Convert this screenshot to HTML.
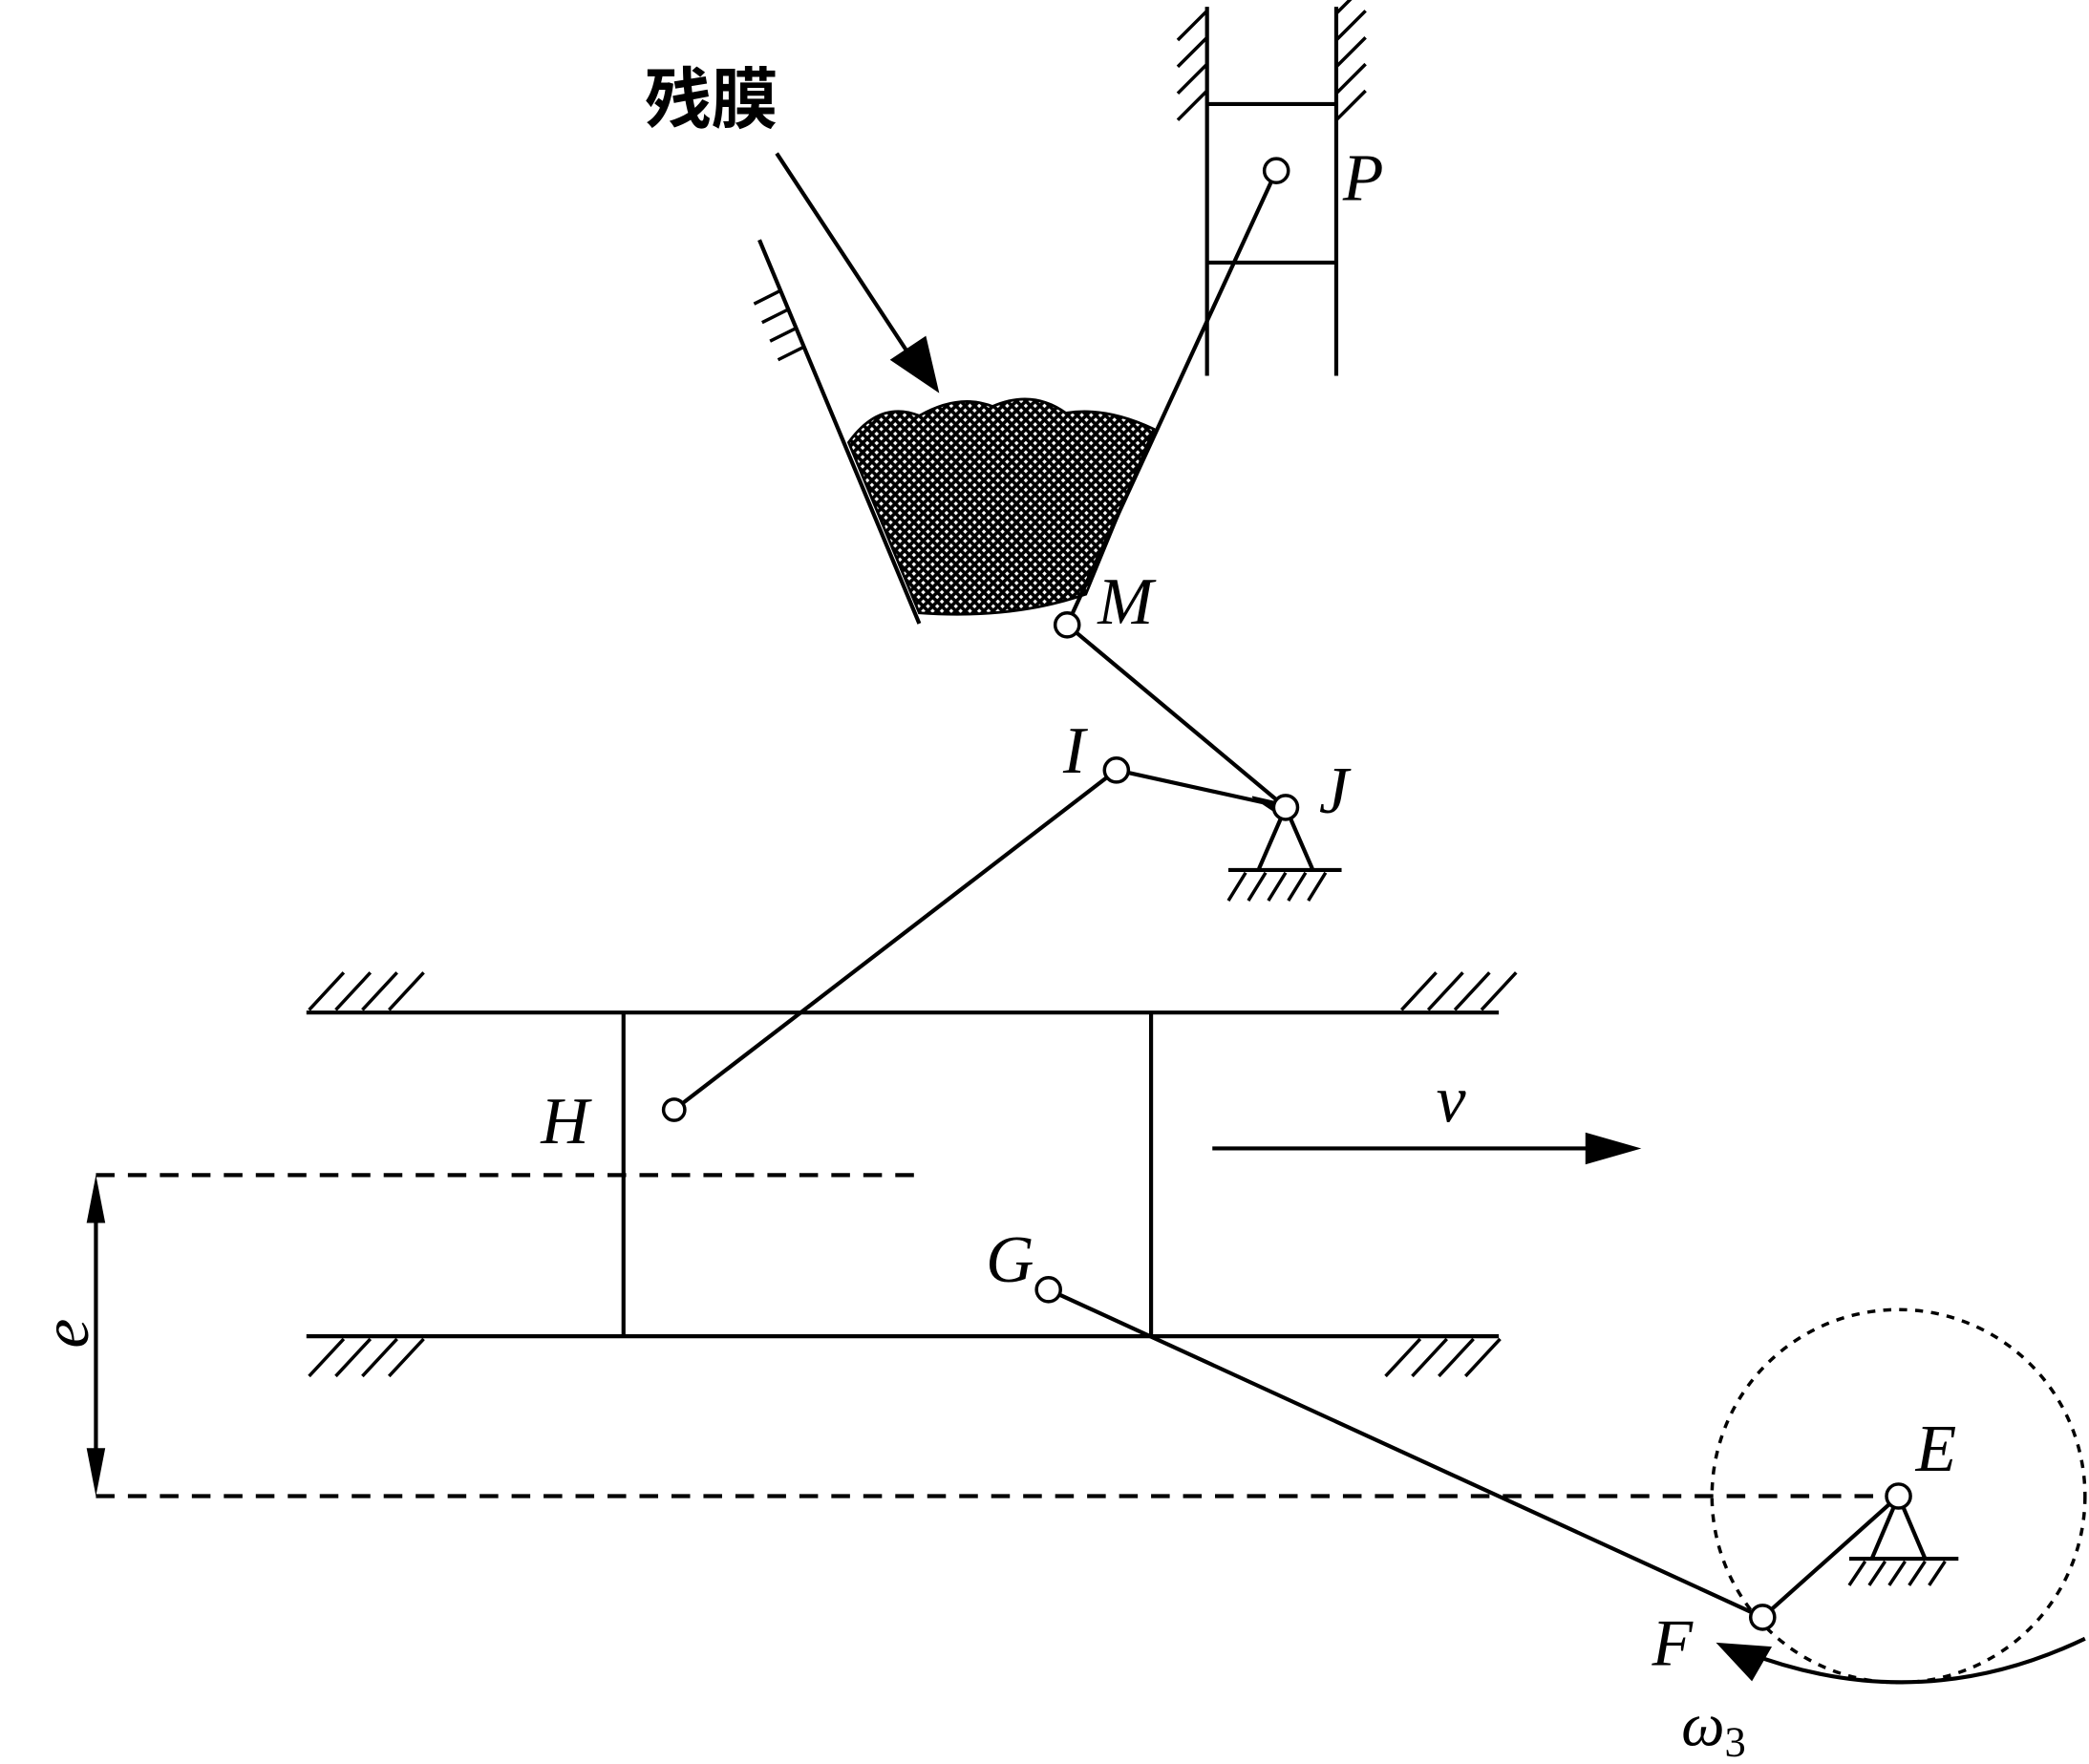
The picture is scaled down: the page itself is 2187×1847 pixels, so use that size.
<!DOCTYPE html>
<html><head><meta charset="utf-8"><style>
html,body{margin:0;padding:0;background:#fff;}
svg{display:block;}
text{font-family:"Liberation Serif","Noto Serif CJK SC",serif;font-style:italic;fill:#000;}
</style></head><body>
<svg width="2187" height="1847" viewBox="0 0 1568 1324" xmlns="http://www.w3.org/2000/svg">
<defs>
<pattern id="xh" width="7" height="7" patternUnits="userSpaceOnUse">
<rect width="7" height="7" fill="#fff"/>
<path d="M0,0 L7,7 M7,0 L0,7" stroke="#000" stroke-width="2.6"/>
</pattern>
</defs>
<g stroke="#000" stroke-width="3" fill="none">
<line x1="906" y1="5" x2="906" y2="282"/>
<line x1="1003" y1="5" x2="1003" y2="282"/>
<line x1="906" y1="78" x2="1003" y2="78"/>
<line x1="906" y1="197" x2="1003" y2="197"/>
<path d="M906,8 L884,30 M906,28 L884,50 M906,48 L884,70 M906,68 L884,90 M1003,10 L1025,-12 M1003,30 L1025,8 M1003,50 L1025,28 M1003,70 L1025,48 M1003,90 L1025,68" stroke-width="2.5"/>
<path d="M637,332 Q660,300 690,312 Q720,295 745,305 Q775,292 800,310 Q830,305 866,322 L815,446 Q760,465 690,460 Z" fill="url(#xh)" stroke-width="2"/>
<line x1="570" y1="180" x2="690" y2="468"/>
<line x1="958" y1="128" x2="801" y2="469"/>
<path d="M586,218 L566,228 M592,232 L572,242 M598,246 L578,256 M604,260 L584,270" stroke-width="2.5"/>
<line x1="583" y1="115" x2="685" y2="270"/>
<polygon points="705,295 668,270 695,252" fill="#000" stroke="none"/>
<line x1="801" y1="469" x2="965" y2="606"/>
<line x1="838" y1="578" x2="965" y2="606"/>
<line x1="838" y1="578" x2="506" y2="833"/>
<polygon points="940,598 958,602 955,608" fill="#000" stroke-width="1"/>
<path d="M965,606 L945,652 M965,606 L985,652"/>
<line x1="922" y1="653" x2="1007" y2="653"/>
<path d="M935,655 L922,676 M950,655 L937,676 M965,655 L952,676 M980,655 L967,676 M995,655 L982,676" stroke-width="2.5"/>
<line x1="230" y1="760" x2="1125" y2="760"/>
<line x1="230" y1="1003" x2="1125" y2="1003"/>
<path d="M232,758 L258,730 M252,758 L278,730 M272,758 L298,730 M292,758 L318,730 M1052,758 L1078,730 M1072,758 L1098,730 M1092,758 L1118,730 M1112,758 L1138,730" stroke-width="2.5"/>
<path d="M232,1033 L258,1005 M252,1033 L278,1005 M272,1033 L298,1005 M292,1033 L318,1005 M1040,1033 L1066,1005 M1060,1033 L1086,1005 M1080,1033 L1106,1005 M1100,1033 L1126,1005" stroke-width="2.5"/>
<line x1="468" y1="760" x2="468" y2="1003"/>
<line x1="864" y1="760" x2="864" y2="1003"/>
<line x1="72" y1="882" x2="695" y2="882" stroke-dasharray="14,10"/>
<line x1="72" y1="1123" x2="1425" y2="1123" stroke-dasharray="14,10"/>
<line x1="72" y1="900" x2="72" y2="1105"/>
<polygon points="72,882 65,918 79,918" fill="#000" stroke="none"/>
<polygon points="72,1123 65,1087 79,1087" fill="#000" stroke="none"/>
<line x1="910" y1="862" x2="1200" y2="862"/>
<polygon points="1232,862 1190,850 1190,874" fill="#000" stroke="none"/>
<line x1="787" y1="968" x2="1323" y2="1214"/>
<line x1="1425" y1="1123" x2="1323" y2="1214"/>
<circle cx="1425" cy="1123" r="140" stroke-dasharray="6,6" stroke-width="2.5"/>
<path d="M1425,1123 L1405,1170 M1425,1123 L1445,1170"/>
<line x1="1388" y1="1170" x2="1470" y2="1170"/>
<path d="M1400,1172 L1388,1190 M1415,1172 L1403,1190 M1430,1172 L1418,1190 M1445,1172 L1433,1190 M1460,1172 L1448,1190" stroke-width="2.5"/>
<path d="M1310,1240 Q1440,1290 1565,1230"/>
<polygon points="1288,1233 1330,1236 1315,1262" fill="#000" stroke="none"/>
<g fill="#fff" stroke-width="2.5">
<circle cx="958" cy="128" r="9"/>
<circle cx="801" cy="469" r="9"/>
<circle cx="838" cy="578" r="9"/>
<circle cx="965" cy="606" r="9"/>
<circle cx="506" cy="833" r="8"/>
<circle cx="787" cy="968" r="9"/>
<circle cx="1425" cy="1123" r="9"/>
<circle cx="1323" cy="1214" r="9"/>
</g>
</g>
<text x="484" y="92" font-size="50" font-weight="bold" style="font-style:normal;font-family:'Noto Sans CJK SC',sans-serif">残膜</text>
<text x="1008" y="150" font-size="50">P</text>
<text x="824" y="468" font-size="50">M</text>
<text x="798" y="580" font-size="50">I</text>
<text x="990" y="610" font-size="50">J</text>
<text x="406" y="858" font-size="50">H</text>
<text x="1078" y="842" font-size="50">v</text>
<text x="740" y="962" font-size="50">G</text>
<text x="1438" y="1104" font-size="50">E</text>
<text x="1240" y="1250" font-size="50">F</text>
<text x="1262" y="1310" font-size="46">ω<tspan font-size="32" dy="8" style="font-style:normal">3</tspan></text>
<text x="0" y="0" font-size="50" transform="translate(66,1012) rotate(-90)">e</text>
</svg>
</body></html>
